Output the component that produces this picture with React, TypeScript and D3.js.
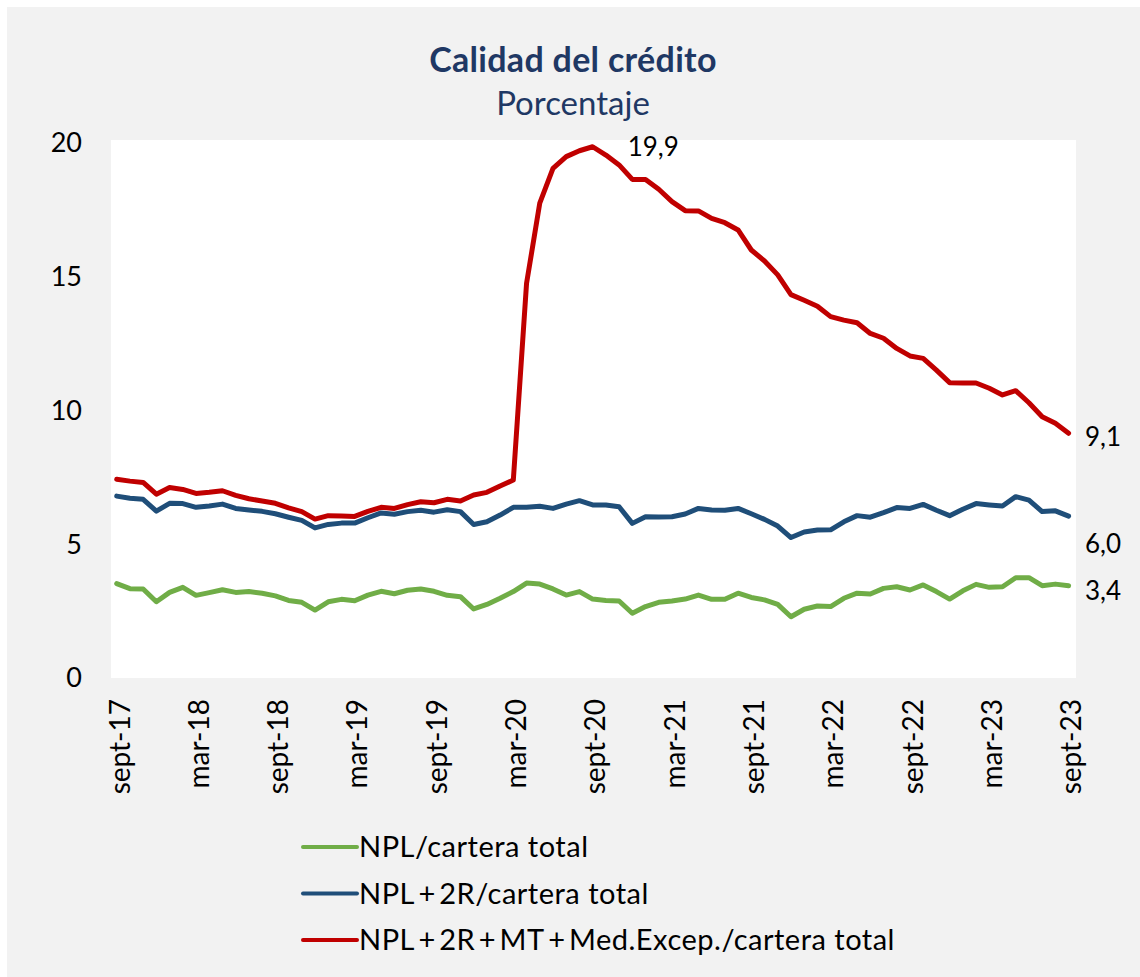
import * as d3 from "d3";

const MONTHS = ["ene", "feb", "mar", "abr", "may", "jun", "jul", "ago", "sept", "oct", "nov", "dic"];
// monthly, sept-17 .. sept-23
const periods: string[] = [];
for (let i = 0; i <= 72; i++) {
  const m = (8 + i) % 12;
  const y = 17 + Math.floor((8 + i) / 12);
  periods.push(`${MONTHS[m]}-${y}`);
}
const tickLabels = periods.filter((_, i) => i % 6 === 0);

const npl = [
  3.53, 3.34, 3.33, 2.85, 3.2, 3.39, 3.09, 3.19, 3.3, 3.2, 3.23, 3.17, 3.07, 2.9, 2.83, 2.54, 2.85, 2.94, 2.89, 3.1, 3.24, 3.15, 3.28, 3.33, 3.24,
  3.09, 3.04, 2.58, 2.75, 2.98, 3.23, 3.55, 3.51, 3.33, 3.1, 3.23, 2.95, 2.9, 2.88, 2.42, 2.67, 2.83, 2.88, 2.95, 3.1, 2.94, 2.94, 3.17,
  3.01, 2.92, 2.75, 2.29, 2.57, 2.69, 2.67, 2.98, 3.17, 3.14, 3.35, 3.41, 3.29, 3.48, 3.23, 2.95, 3.26, 3.5, 3.39, 3.41, 3.75, 3.75, 3.45, 3.51, 3.45,
];
const npl2r = [
  6.8, 6.72, 6.68, 6.24, 6.53, 6.52, 6.38, 6.43, 6.5, 6.34, 6.28, 6.23, 6.14, 6.01, 5.89, 5.61, 5.74, 5.79, 5.79, 5.99, 6.17, 6.12, 6.22, 6.27, 6.2,
  6.29, 6.22, 5.74, 5.84, 6.09, 6.38, 6.38, 6.42, 6.34, 6.5, 6.63, 6.47, 6.47, 6.4, 5.78, 6.03, 6.02, 6.03, 6.13, 6.34, 6.28, 6.27, 6.34,
  6.14, 5.93, 5.68, 5.25, 5.46, 5.53, 5.54, 5.84, 6.07, 6.01, 6.18, 6.37, 6.34, 6.49, 6.27, 6.07, 6.31, 6.52, 6.47, 6.43, 6.78, 6.65, 6.22, 6.25, 6.05,
];
const nplTotal = [
  7.43, 7.36, 7.31, 6.87, 7.12, 7.05, 6.9, 6.94, 7.0, 6.83, 6.7, 6.62, 6.53, 6.36, 6.22, 5.94, 6.07, 6.06, 6.04, 6.23, 6.38, 6.34, 6.48, 6.59, 6.55,
  6.68, 6.62, 6.84, 6.94, 7.18, 7.4,
  14.75, 17.75, 19.05, 19.49, 19.71, 19.86, 19.55, 19.18, 18.64, 18.64, 18.27, 17.81, 17.47, 17.46, 17.18, 17.02, 16.75, 16.0, 15.59, 15.07, 14.33, 14.12,
  13.9, 13.51, 13.38, 13.28, 12.88, 12.7, 12.32, 12.04, 11.95, 11.51, 11.04, 11.03, 11.03, 10.83, 10.58, 10.74, 10.29, 9.77, 9.52, 9.15,
];

const seriesNames = ["NPL/cartera total", "NPL+2R/cartera total", "NPL+2R+MT+Med.Excep./cartera total"];
const seriesColors = ["#70ad47", "#1f4e79", "#c00000"];
const seriesValues = [npl, npl2r, nplTotal];
const endLabels = ["3,4", "6,0", "9,1"];
const endLabelValues = [3.25, 5.0, 9.0];
const peakLabel = "19,9";
const yTicks = [0, 5, 10, 15, 20];

const FONT = "Lato, 'Open Sans', sans-serif";

// the "+" signs in the original font are wide, so pad them a little
function legendText(name: string) {
  const parts = name.split("+");
  return parts.map((p, i) => (
    <tspan key={i}>
      {i > 0 ? <tspan dx={3.5}>+</tspan> : null}
      <tspan dx={i > 0 ? 3.5 : 0}>{p}</tspan>
    </tspan>
  ));
}

export default function App() {
  const W = 1140, H = 977;
  const plot = { x0: 111, x1: 1076, y0: 140, y1: 678 };
  const x = d3.scalePoint<string>().domain(periods).range([116.7, 1068.6]);
  const y = d3.scaleLinear().domain([0, 20]).range([678, 143]);
  const line = d3.line<number>().x((_, i) => x(periods[i]) ?? 0).y((d) => y(d));
  const peakIdx = nplTotal.indexOf(d3.max(nplTotal) as number);

  return (
    <svg width={W} height={H} style={{ position: "fixed", left: 0, top: 0, display: "block" }} fontFamily={FONT}>
      <rect x={7} y={7} width={W - 7} height={H - 7} fill="#f2f2f2" />
      <rect x={plot.x0} y={plot.y0} width={plot.x1 - plot.x0} height={plot.y1 - plot.y0} fill="#ffffff" />

      <text x={573} y={72} textAnchor="middle" fontSize={34} fontWeight={700} fill="#1f3864" letterSpacing={0.3}>
        Calidad del crédito
      </text>
      <text x={573} y={115} textAnchor="middle" fontSize={33} fill="#1f3864">
        Porcentaje
      </text>

      {yTicks.map((t) => (
        <text key={t} x={82} y={y(t)} dy="0.35em" textAnchor="end" fontSize={27} fill="#000">
          {t}
        </text>
      ))}

      {tickLabels.map((lab) => (
        <text
          key={lab}
          transform={`translate(${(x(lab) ?? 0) + 3},699) rotate(-90)`}
          textAnchor="end"
          dy="0.35em"
          fontSize={28}
          fill="#000"
        >
          {lab}
        </text>
      ))}

      {seriesValues.map((vals, k) => (
        <path
          key={k}
          d={line(vals) ?? ""}
          fill="none"
          stroke={seriesColors[k]}
          strokeWidth={5}
          strokeLinejoin="round"
          strokeLinecap="round"
        />
      ))}

      <text x={(x(periods[peakIdx]) ?? 0) + 35} y={y(nplTotal[peakIdx])} dy="0.35em" fontSize={26} fill="#000">
        {peakLabel}
      </text>
      {endLabels.map((lab, k) => (
        <text key={lab} x={1085} y={y(endLabelValues[k])} dy="0.35em" fontSize={26} fill="#000">
          {lab}
        </text>
      ))}

      {seriesNames.map((name, k) => (
        <g key={name} transform={`translate(303,${847 + k * 46.5})`}>
          <line x1={0} x2={54} y1={0} y2={0} stroke={seriesColors[k]} strokeWidth={4} strokeLinecap="round" />
          <text x={56} y={0} dy="0.35em" fontSize={29} letterSpacing={0.5} fill="#000">
            {legendText(name)}
          </text>
        </g>
      ))}
    </svg>
  );
}
